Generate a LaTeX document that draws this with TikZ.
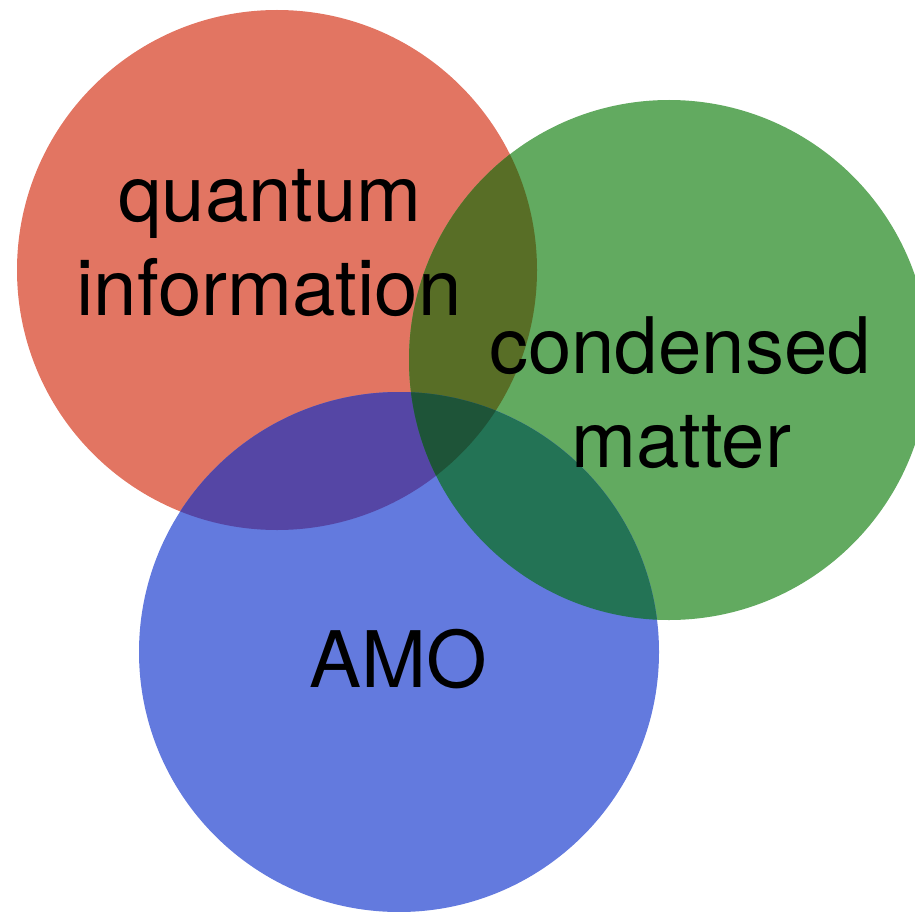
\documentclass[tikz,border=0pt]{standalone}
\usepackage{fontspec}
\setmainfont{TeX Gyre Heros}
\definecolor{cred}{HTML}{E27562}
\definecolor{cgreen}{HTML}{62AA60}
\definecolor{cblue}{HTML}{637ADE}
\definecolor{crg}{HTML}{586E26}
\definecolor{crb}{HTML}{5546A5}
\definecolor{cgb}{HTML}{237355}
\definecolor{crgb}{HTML}{1E5438}
\begin{document}
\begin{tikzpicture}[x=1pt,y=-1pt,
  lbl/.style={inner sep=0pt,anchor=base,font=\fontsize{78}{92}\selectfont,text=black}]
\useasboundingbox (0,0) rectangle (915,912);
\coordinate (R) at (277,270);
\coordinate (G) at (669,360);
\coordinate (B) at (399,652);
\def\rad{260}
\fill[cred] (R) circle[radius=\rad];
\fill[cgreen] (G) circle[radius=\rad];
\fill[cblue] (B) circle[radius=\rad];
\begin{scope}
  \clip (R) circle[radius=\rad];
  \fill[crg] (G) circle[radius=\rad];
\end{scope}
\begin{scope}
  \clip (R) circle[radius=\rad];
  \fill[crb] (B) circle[radius=\rad];
\end{scope}
\begin{scope}
  \clip (G) circle[radius=\rad];
  \fill[cgb] (B) circle[radius=\rad];
\end{scope}
\begin{scope}
  \clip (R) circle[radius=\rad];
  \clip (G) circle[radius=\rad];
  \fill[crgb] (B) circle[radius=\rad];
\end{scope}
\node[lbl] (q) at (270,222) {quantum};
\node[lbl] (i) at (269,315) {information};
\node[lbl] (c) at (680,373) {condensed};
\node[lbl] (m) at (681,467) {matter};
\node[lbl] (a) at (398,687) {AMO};
\end{tikzpicture}
\end{document}
